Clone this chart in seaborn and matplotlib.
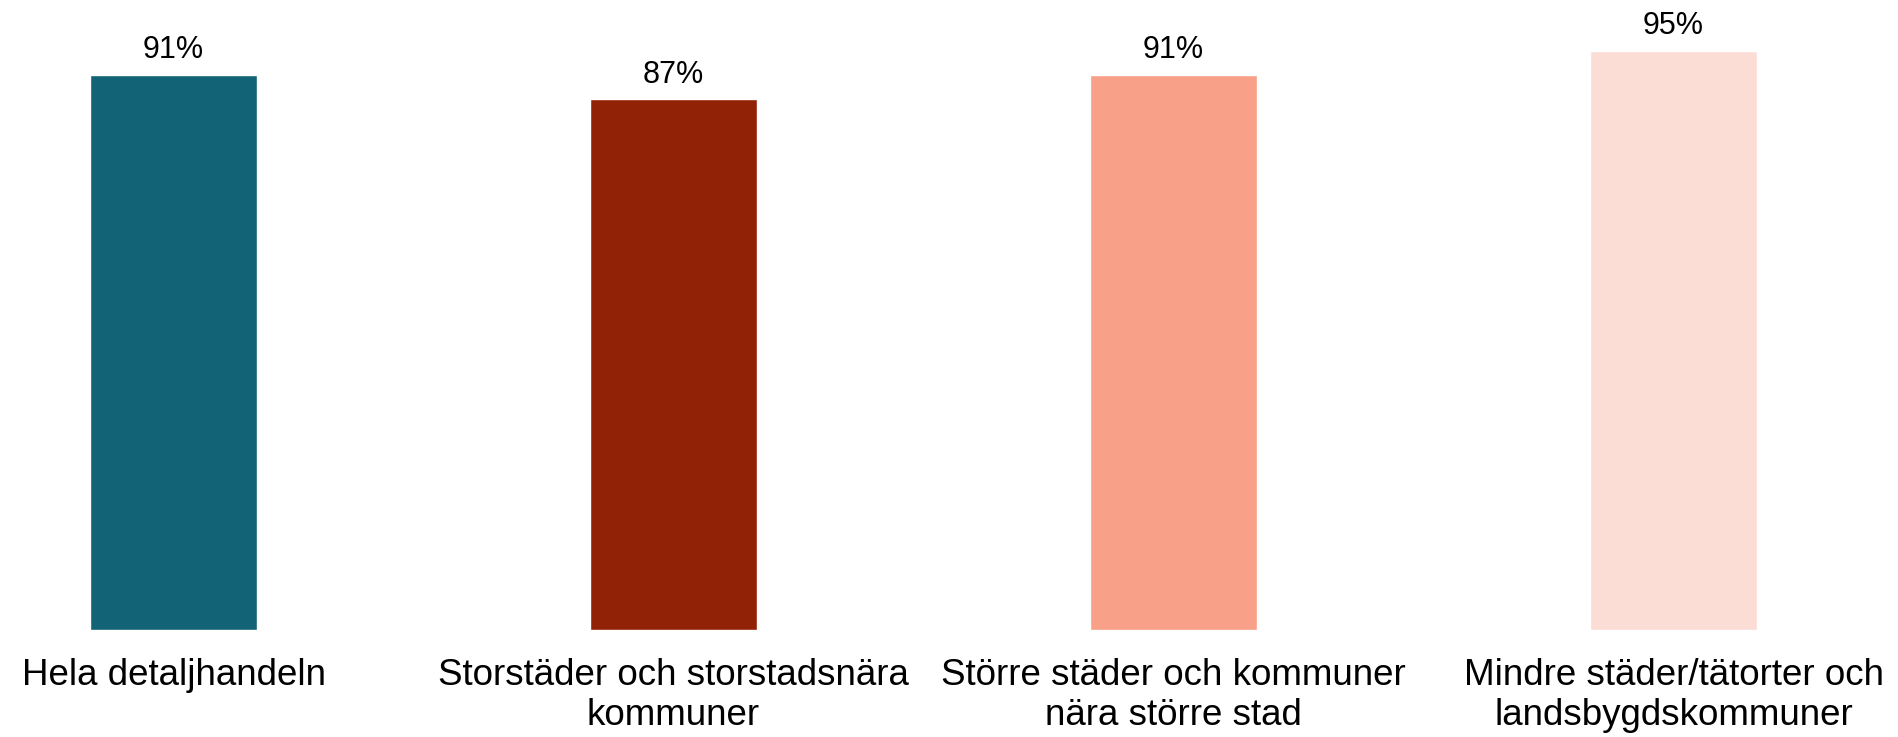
import matplotlib
matplotlib.use("Agg")
import matplotlib.pyplot as plt
import seaborn as sns

categories = [
    "Hela detaljhandeln",
    "Storstäder och storstadsnära\nkommuner",
    "Större städer och kommuner\nnära större stad",
    "Mindre städer/tätorter och\nlandsbygdskommuner",
]
values = [91, 87, 91, 95]
value_labels = ["91%", "87%", "91%", "95%"]
colors = ["#136377", "#922205", "#F9A088", "#FCDDD6"]

sns.set_theme(style="white")
plt.rcParams["font.family"] = ["Liberation Sans", "DejaVu Sans"]

fig = plt.figure(figsize=(18.98, 7.37), dpi=100)
ax = fig.add_axes([0, 107 / 737, 1, 610 / 737])

sns.barplot(x=categories, y=values, hue=categories, palette=colors,
            width=0.334, legend=False, saturation=1, ax=ax)

for cont, lab in zip(ax.containers, value_labels):
    ax.bar_label(cont, labels=[lab], padding=7, fontsize=22, color="#000000")

ax.set_ylim(0, 100)
ax.set_xlim(-173.5 / 500, (1898 - 173.5) / 500)
ax.set_xlabel("")
ax.set_ylabel("")
ax.set_yticks([])
ax.tick_params(axis="x", length=0, pad=20, labelsize=26.5, labelcolor="#000000")
for lbl in ax.get_xticklabels():
    lbl.set_linespacing(1.18)
for s in ax.spines.values():
    s.set_visible(False)

fig.savefig("out.png", dpi=100, facecolor="white")
